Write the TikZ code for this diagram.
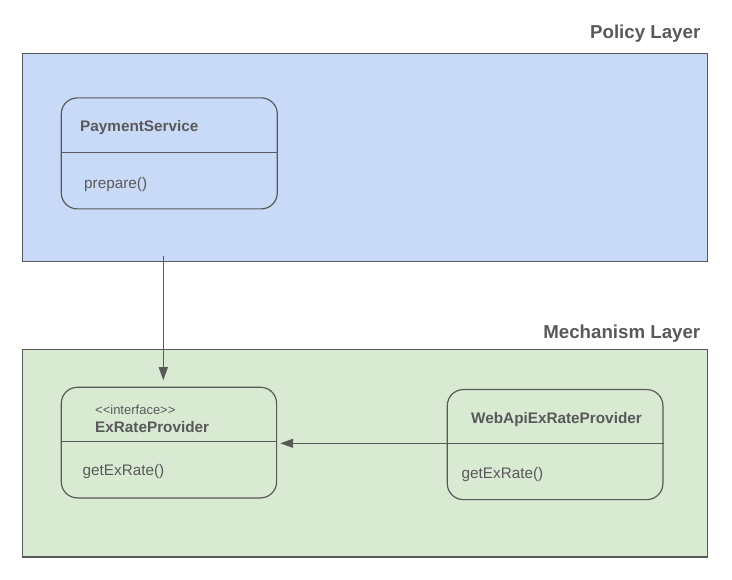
\documentclass[tikz,border=0pt]{standalone}
\usepackage{fontspec}
\setmainfont{Liberation Sans}
\usetikzlibrary{arrows.meta}
\definecolor{linegray}{HTML}{595959}
\definecolor{textgray}{HTML}{595959}
\definecolor{policyblue}{HTML}{C9DAF8}
\definecolor{mechgreen}{HTML}{D9EAD3}
\tikzset{
  layerbox/.style={draw=linegray, line width=1.2pt, inner sep=0pt},
  classbox/.style={draw=linegray, line width=1.2pt, rounded corners=16pt, inner sep=0pt},
  divider/.style={draw=linegray, line width=1.2pt},
  layertitle/.style={font=\bfseries\fontsize{18.7}{20}\selectfont, text=textgray, anchor=base east, inner sep=0pt},
  cname/.style={font=\bfseries\fontsize{15.3}{17}\selectfont, text=textgray, anchor=base west, inner sep=0pt},
  stereo/.style={font=\fontsize{13}{15}\selectfont, text=textgray, anchor=base west, inner sep=0pt},
  mtext/.style={font=\fontsize{15.3}{17}\selectfont, text=textgray, anchor=base west, inner sep=0pt},
  dep/.style={draw=linegray, line width=1.2pt, -{Triangle[length=13pt,width=9pt]}}
}
\begin{document}
\begin{tikzpicture}[x=1pt,y=-1pt]
\useasboundingbox[fill=white] (0,0) rectangle (732,580);
% layers
\node[layerbox, fill=policyblue, minimum width=685pt, minimum height=208pt, anchor=north west] (policy) at (22,53.3) {};
\node[layerbox, fill=mechgreen, minimum width=685pt, minimum height=207pt, anchor=north west] (mech) at (22,349.3) {};
\node[layertitle] (policyT) at (700.5,38.3) {Policy Layer};
\node[layertitle] (mechT) at (700.5,338.3) {Mechanism Layer};
% PaymentService
\node[classbox, minimum width=216pt, minimum height=111pt, anchor=north west] (ps) at (60.7,97.3) {};
\draw[divider] (ps.west |- 0,152.7) coordinate (psdl) -- (ps.east |- 0,152.7) coordinate (psdr);
\node[cname] (psname) at (80,131.5) {PaymentService};
\node[mtext] (psop) at (84,188.3) {prepare()};
% ExRateProvider
\node[classbox, minimum width=215.3pt, minimum height=110.6pt, anchor=north west] (epr) at (60.7,386.7) {};
\draw[divider] (epr.west |- 0,441.7) coordinate (epdl) -- (epr.east |- 0,441.7) coordinate (epdr);
\node[stereo] (eprst) at (95,414.3) {<\kern0pt<interface>\kern0pt>};
\node[cname] (eprname) at (95,433) {ExRateProvider};
\node[mtext] (eprop) at (82.5,475.5) {getExRate()};
% WebApiExRateProvider
\node[classbox, minimum width=215.6pt, minimum height=110pt, anchor=north west] (wp) at (446.7,389) {};
\draw[divider] (wp.west |- 0,443.3) coordinate (wpdl) -- (wp.east |- 0,443.3) coordinate (wpdr);
\node[cname] (wpname) at (471,423.3) {WebApiExRateProvider};
\node[mtext] (wpop) at (461.5,478.5) {getExRate()};
% connectors
\coordinate (a1) at (163.3,256);
\draw[dep, shorten >=6.5pt] (a1) -- (a1 |- epr.north);
\draw[dep, shorten >=3pt] (wpdl) -- (wpdl -| epr.east);
\end{tikzpicture}
\end{document}
